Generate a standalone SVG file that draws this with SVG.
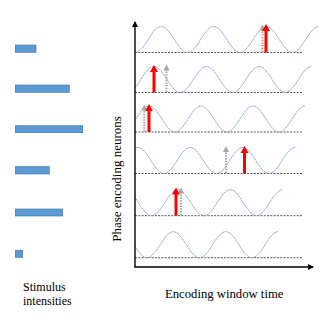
<svg xmlns="http://www.w3.org/2000/svg" width="333" height="316" viewBox="0 0 333 316">
<style>
.bar{fill:#5b9bd5;stroke:#41719c;stroke-width:0.6}
.wave{fill:none;stroke:#86a5cc;stroke-width:1;stroke-dasharray:1.6 0.5}
.base{fill:none;stroke:#555;stroke-width:1;stroke-dasharray:2 1.3}
.axis{fill:none;stroke:#000;stroke-width:1.4}
.red{fill:#ff0000}
.gshaft{fill:none;stroke:#a6a6a6;stroke-width:2;stroke-dasharray:1.5 1.2}
.ghead{fill:#a6a6a6}
.lbl{font-family:"Liberation Serif","Times New Roman",serif;fill:#000}
</style>
<defs>
<clipPath id="plot"><rect x="135" y="0" width="198" height="316"/></clipPath>
<marker id="ah" markerWidth="6" markerHeight="6" refX="5" refY="3" orient="auto" markerUnits="userSpaceOnUse">
<path d="M0,0 L6,3 L0,6 Z" fill="#000"/>
</marker>
</defs>

<g id="stimuli">
<rect id="bar1" class="bar" x="15.3" y="45" width="20.7" height="7.3"/>
<rect id="bar2" class="bar" x="15.3" y="85" width="54" height="7.3"/>
<rect id="bar3" class="bar" x="15.3" y="125.7" width="67.4" height="7"/>
<rect id="bar4" class="bar" x="15.3" y="166.7" width="34" height="7.3"/>
<rect id="bar5" class="bar" x="15.3" y="209" width="47.4" height="7"/>
<rect id="bar6" class="bar" x="15.3" y="250.3" width="7.4" height="7"/>
</g>

<g id="neuron1">
<line class="base" x1="135" y1="52.5" x2="303" y2="52.5"/>
<path class="wave" clip-path="url(#plot)" d="M135 52.5 c9.56 0 16.69 -26 26.25 -26 s16.69 26 26.25 26 s16.69 -26 26.25 -26 s16.69 26 26.25 26 s16.69 -26 26.25 -26 s16.69 26 26.25 26 s16.69 -26 26.25 -26"/>
<line class="gshaft" x1="262.5" y1="52" x2="262.5" y2="30"/>
<polygon class="ghead" points="262.5,24.5 265.5,30.5 259.5,30.5"/>
<polygon class="red" points="266,24 270,31 267.5,31 267.5,52.5 264.5,52.5 264.5,31 262,31"/>
</g>

<g id="neuron2">
<line class="base" x1="135" y1="92.5" x2="303" y2="92.5"/>
<path class="wave" clip-path="url(#plot)" d="M127.75 92.5 c9.56 0 16.69 -26 26.25 -26 s16.69 26 26.25 26 s16.69 -26 26.25 -26 s16.69 26 26.25 26 s16.69 -26 26.25 -26 s16.69 26 26.25 26 s16.69 -26 26.25 -26"/>
<line class="gshaft" x1="166.5" y1="92" x2="166.5" y2="70"/>
<polygon class="ghead" points="166.5,64.5 169.5,70.5 163.5,70.5"/>
<polygon class="red" points="154,65 158,72 155.5,72 155.5,92.5 152.5,92.5 152.5,72 150,72"/>
</g>

<g id="neuron3">
<line class="base" x1="135" y1="132" x2="303" y2="132"/>
<path class="wave" clip-path="url(#plot)" d="M123 132 c9.47 0 16.53 -26 26 -26 s16.53 26 26 26 s16.53 -26 26 -26 s16.53 26 26 26 s16.53 -26 26 -26 s16.53 26 26 26 s16.53 -26 26 -26"/>
<line class="gshaft" x1="144.3" y1="131.5" x2="144.3" y2="110"/>
<polygon class="ghead" points="144.3,104.5 147.3,110.5 141.3,110.5"/>
<polygon class="red" points="149,104 153,111 150.5,111 150.5,132 147.5,132 147.5,111 145,111"/>
</g>

<g id="neuron4">
<line class="base" x1="135" y1="173.5" x2="303" y2="173.5"/>
<path class="wave" clip-path="url(#plot)" d="M111.5 173.5 c9.56 0 16.69 -26 26.25 -26 s16.69 26 26.25 26 s16.69 -26 26.25 -26 s16.69 26 26.25 26 s16.69 -26 26.25 -26 s16.69 26 26.25 26 s16.69 -26 26.25 -26"/>
<line class="gshaft" x1="226" y1="173" x2="226" y2="151.5"/>
<polygon class="ghead" points="226,146 229,152 223,152"/>
<polygon class="red" points="244.5,146 248.5,153 246,153 246,173.5 243,173.5 243,153 240.5,153"/>
</g>

<g id="neuron5">
<line class="base" x1="135" y1="215.7" x2="303" y2="215.7"/>
<path class="wave" clip-path="url(#plot)" d="M99 215.7 c9.56 0 16.69 -26 26.25 -26 s16.69 26 26.25 26 s16.69 -26 26.25 -26 s16.69 26 26.25 26 s16.69 -26 26.25 -26 s16.69 26 26.25 26 s16.69 -26 26.25 -26"/>
<line class="gshaft" x1="181" y1="215.2" x2="181" y2="193"/>
<polygon class="ghead" points="181,187.5 184,193.5 178,193.5"/>
<polygon class="red" points="176,187.5 180,194.5 177.5,194.5 177.5,215.7 174.5,215.7 174.5,194.5 172,194.5"/>
</g>

<g id="neuron6">
<line class="base" x1="135" y1="257.7" x2="303" y2="257.7"/>
<path class="wave" clip-path="url(#plot)" d="M120.75 231.7 c9.56 0 16.69 26 26.25 26 s16.69 -26 26.25 -26 s16.69 26 26.25 26 s16.69 -26 26.25 -26 s16.69 26 26.25 26 s16.69 -26 26.25 -26"/>
</g>

<g id="connectors">
<line class="axis" x1="135" y1="267" x2="135" y2="22" marker-end="url(#ah)"/>
<line class="axis" x1="134.3" y1="267" x2="313" y2="267" marker-end="url(#ah)"/>
</g>

<g id="labels">
<text class="lbl" x="23" y="290.7" font-size="12">Stimulus</text>
<text class="lbl" x="23" y="305" font-size="12">intensities</text>
<text class="lbl" x="165" y="298.3" font-size="12.7">Encoding window time</text>
<text class="lbl" font-size="13" text-anchor="middle" transform="translate(121,179) rotate(-90)">Phase encoding neurons</text>
</g>
</svg>
